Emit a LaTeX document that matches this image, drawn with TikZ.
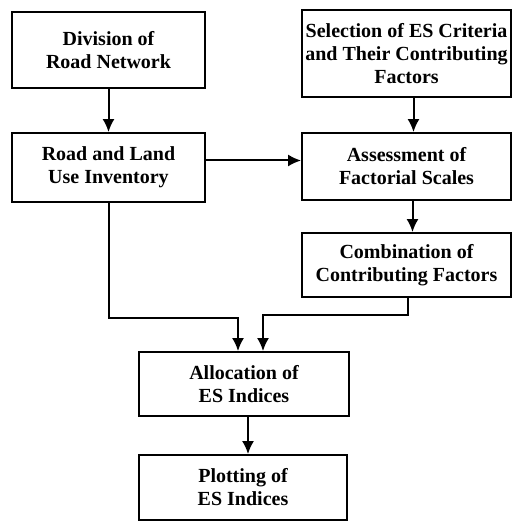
\documentclass[tikz,border=0pt]{standalone}
\usepackage{fontspec}
\setmainfont{Liberation Serif}
\usetikzlibrary{arrows.meta}
\tikzset{>={Latex[length=13pt,width=12pt]}}

\begin{document}
\begin{tikzpicture}[x=1pt,y=-1pt]
\useasboundingbox (0,0) rectangle (512,521);
\begin{scope}[every node/.style={draw,line width=1.8pt,align=center,inner sep=2pt,
    font=\fontsize{20}{23}\selectfont\bfseries}]
\node[minimum width=193pt,minimum height=76pt] (DR) at (108.5,50) {Division of\\Road Network};
\node[minimum width=209pt,minimum height=87pt] (SC) at (406.5,53.5) {Selection of ES Criteria\\and Their Contributing\\Factors};
\node[minimum width=193pt,minimum height=69pt] (RL) at (108.5,167.5) {Road and Land\\Use Inventory};
\node[minimum width=209pt,minimum height=67pt] (AF) at (406.5,166.5) {Assessment of\\Factorial Scales};
\node[minimum width=209pt,minimum height=64pt] (CF) at (406.5,265) {Combination of\\Contributing Factors};
\node[minimum width=210pt,minimum height=64pt] (AE) at (244,384) {Allocation of\\ES Indices};
\node[minimum width=208pt,minimum height=65pt] (PE) at (243,487.5) {Plotting of\\ES Indices};
\end{scope}
\begin{scope}[line width=2pt,
    every edge/.style={draw=black,line width=2pt}]
    \path [->] (DR) edge (RL);
    \path [->] ([xshift=7pt]SC.south) edge ([xshift=7pt]AF.north);
    \path [->] ([yshift=7pt]RL.east) edge ([yshift=7pt]RL.east -| AF.west);
    \path [->] ([xshift=6pt]AF.south) edge ([xshift=6pt]CF.north);
    \path [->] ([xshift=4pt]AE.south) edge ([xshift=4pt]AE.south |- PE.north);

    \draw [->] (RL.south) -- ++(0,115) -| ([xshift=-6pt]AE.north);
    \draw [->] ([xshift=1.5pt]CF.south) -- ++(0,17) -| ([xshift=19pt]AE.north);
\end{scope}
\end{tikzpicture}
\end{document}
